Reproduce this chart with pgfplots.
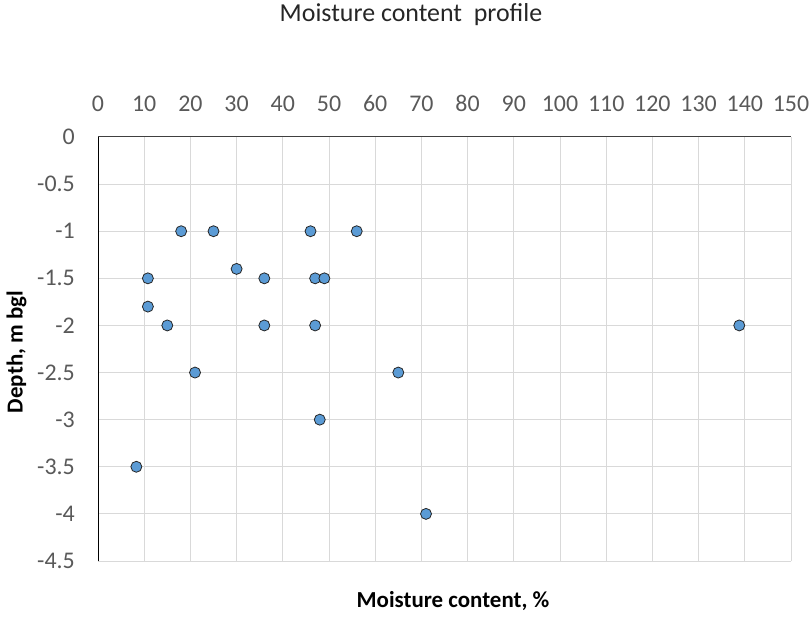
\documentclass[border=0pt]{standalone}
\usepackage{fontspec}
\setmainfont{Carlito}
\usepackage{pgfplots}
\pgfplotsset{compat=1.18}
\definecolor{ptfill}{HTML}{5B9BD5}
\definecolor{gridc}{HTML}{D9D9D9}
\definecolor{txt}{HTML}{595959}

\pgfplotstableread{
x y
18 -1
25 -1
46 -1
56 -1
30 -1.4
10.8 -1.5
36 -1.5
47 -1.5
49 -1.5
10.8 -1.8
15 -2
36 -2
47 -2
138.8 -2
21 -2.5
65 -2.5
48 -3
8.3 -3.5
71 -4
}\moisture

\begin{document}
\begin{tikzpicture}
\path[use as bounding box] (-98bp,-57bp) rectangle (712bp,561bp);
\begin{axis}[
  scale only axis,
  width=693bp, height=424bp,
  xmin=0, xmax=150, ymin=-4.5, ymax=0,
  xtick distance=10, ytick distance=0.5,
  axis x line*=top, axis y line*=left,
  axis line style={-},
  x axis line style={black!75, line width=1bp},
  y axis line style={black, line width=1bp},
  major tick length=0pt,
  grid=major,
  grid style={gridc, line width=1bp},
  /pgf/number format/assume math mode=true,
  /pgf/number format/fixed,
  ticklabel style={text=txt, font=\fontsize{24}{24}\selectfont, inner sep=0pt},
  xticklabel style={anchor=base, yshift=25bp},
  yticklabel style={anchor=east, xshift=-23bp},
]
\addplot[only marks, mark=*, mark size=5.5bp,
  mark options={fill=ptfill, draw=black!85, line width=0.8bp}]
  table[x=x, y=y] {\moisture};
\end{axis}
\node[text=black!85, anchor=base, font=\fontsize{26}{26}\selectfont] at (313bp,539bp) {Moisture content\ \ profile};
\node[font=\fontsize{23}{23}\selectfont\bfseries] at (355bp,-40bp) {Moisture content, \%};
\node[font=\fontsize{23}{23}\selectfont\bfseries, rotate=90] at (-81.5bp,209bp) {Depth, m bgl};
\end{tikzpicture}
\end{document}
